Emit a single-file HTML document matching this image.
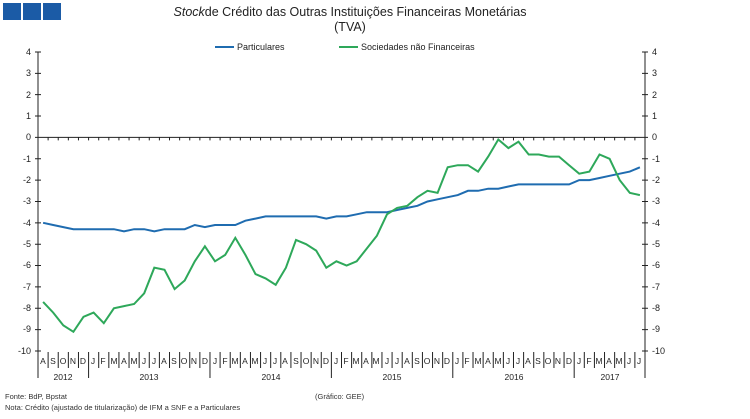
<!DOCTYPE html>
<html><head><meta charset="utf-8"><style>
html,body{margin:0;padding:0;background:#fff;}
svg{display:block;font-family:"Liberation Sans",Arial,sans-serif;}
</style></head><body>
<svg id="s" width="750" height="419" viewBox="0 0 750 419" xmlns="http://www.w3.org/2000/svg">
<rect x="3" y="3" width="18" height="17" fill="#1b5ba6"/>
<rect x="23" y="3" width="18" height="17" fill="#1b5ba6"/>
<rect x="43" y="3" width="18" height="17" fill="#1b5ba6"/>
<text x="350" y="16" font-size="12.5" text-anchor="middle" fill="#222"><tspan font-style="italic">Stock</tspan>de Crédito das Outras Instituições Financeiras Monetárias</text>
<text x="350" y="31" font-size="12.5" text-anchor="middle" fill="#222">(TVA)</text>
<line x1="215" y1="47" x2="234" y2="47" stroke="#1f6cb0" stroke-width="2"/>
<text x="237" y="50" font-size="9" fill="#222">Particulares</text>
<line x1="339" y1="47" x2="358" y2="47" stroke="#2ea85a" stroke-width="2"/>
<text x="361" y="50" font-size="9" fill="#222">Sociedades não Financeiras</text>
<g font-size="9" fill="#222" text-anchor="end">
<text x="31" y="55">4</text><text x="31" y="76">3</text><text x="31" y="98">2</text><text x="31" y="119">1</text><text x="31" y="140">0</text><text x="31" y="162">-1</text><text x="31" y="183">-2</text><text x="31" y="204">-3</text><text x="31" y="226">-4</text><text x="31" y="247">-5</text><text x="31" y="268">-6</text><text x="31" y="290">-7</text><text x="31" y="311">-8</text><text x="31" y="332">-9</text><text x="31" y="354">-10</text>
</g>
<g font-size="9" fill="#222">
<text x="652" y="55">4</text><text x="652" y="76">3</text><text x="652" y="98">2</text><text x="652" y="119">1</text><text x="652" y="140">0</text><text x="652" y="162">-1</text><text x="652" y="183">-2</text><text x="652" y="204">-3</text><text x="652" y="226">-4</text><text x="652" y="247">-5</text><text x="652" y="268">-6</text><text x="652" y="290">-7</text><text x="652" y="311">-8</text><text x="652" y="332">-9</text><text x="652" y="354">-10</text>
</g>
<g id="axes" stroke="#222" stroke-width="1" fill="none"></g>
<g font-size="8.5" fill="#222" text-anchor="middle">
<text x="43" y="364">A</text><text x="53" y="364">S</text><text x="63" y="364">O</text><text x="73" y="364">N</text><text x="83" y="364">D</text>
<text x="93" y="364">J</text><text x="103" y="364">F</text><text x="114" y="364">M</text><text x="124" y="364">A</text><text x="134" y="364">M</text><text x="144" y="364">J</text><text x="154" y="364">J</text><text x="164" y="364">A</text><text x="174" y="364">S</text><text x="184" y="364">O</text><text x="194" y="364">N</text><text x="205" y="364">D</text>
<text x="215" y="364">J</text><text x="225" y="364">F</text><text x="235" y="364">M</text><text x="245" y="364">A</text><text x="255" y="364">M</text><text x="265" y="364">J</text><text x="275" y="364">J</text><text x="285" y="364">A</text><text x="296" y="364">S</text><text x="306" y="364">O</text><text x="316" y="364">N</text><text x="326" y="364">D</text>
<text x="336" y="364">J</text><text x="346" y="364">F</text><text x="356" y="364">M</text><text x="366" y="364">A</text><text x="376" y="364">M</text><text x="387" y="364">J</text><text x="397" y="364">J</text><text x="407" y="364">A</text><text x="417" y="364">S</text><text x="427" y="364">O</text><text x="437" y="364">N</text><text x="447" y="364">D</text>
<text x="457" y="364">J</text><text x="467" y="364">F</text><text x="478" y="364">M</text><text x="488" y="364">A</text><text x="498" y="364">M</text><text x="508" y="364">J</text><text x="518" y="364">J</text><text x="528" y="364">A</text><text x="538" y="364">S</text><text x="548" y="364">O</text><text x="558" y="364">N</text><text x="569" y="364">D</text>
<text x="579" y="364">J</text><text x="589" y="364">F</text><text x="599" y="364">M</text><text x="609" y="364">A</text><text x="619" y="364">M</text><text x="629" y="364">J</text><text x="639" y="364">J</text>
<text x="63" y="380">2012</text><text x="149" y="380">2013</text><text x="271" y="380">2014</text><text x="392" y="380">2015</text><text x="514" y="380">2016</text><text x="610" y="380">2017</text>
</g>
<polyline id="pb" fill="none" stroke="#1f6cb0" stroke-width="2"/>
<polyline id="pg" fill="none" stroke="#2ea85a" stroke-width="2"/>
<text x="5" y="399" font-size="7.5" fill="#333">Fonte: BdP, Bpstat</text>
<text x="5" y="410" font-size="7.5" fill="#333">Nota: Crédito (ajustado de titularização) de IFM a SNF e a Particulares</text>
<text x="315" y="399" font-size="7.5" fill="#333">(Gráfico: GEE)</text>
</svg>
<script>
var L=38,R=645,W=(R-L)/60;function Y(v){return 137.4-v*21.36;}
var b=[-4.0,-4.1,-4.2,-4.3,-4.3,-4.3,-4.3,-4.3,-4.4,-4.3,-4.3,-4.4,-4.3,-4.3,-4.3,-4.1,-4.2,-4.1,-4.1,-4.1,-3.9,-3.8,-3.7,-3.7,-3.7,-3.7,-3.7,-3.7,-3.8,-3.7,-3.7,-3.6,-3.5,-3.5,-3.5,-3.4,-3.3,-3.2,-3.0,-2.9,-2.8,-2.7,-2.5,-2.5,-2.4,-2.4,-2.3,-2.2,-2.2,-2.2,-2.2,-2.2,-2.2,-2.0,-2.0,-1.9,-1.8,-1.7,-1.6,-1.4];
var g=[-7.7,-8.2,-8.8,-9.1,-8.4,-8.2,-8.7,-8.0,-7.9,-7.8,-7.3,-6.1,-6.2,-7.1,-6.7,-5.8,-5.1,-5.8,-5.5,-4.7,-5.5,-6.4,-6.6,-6.9,-6.1,-4.8,-5.0,-5.3,-6.1,-5.8,-6.0,-5.8,-5.2,-4.6,-3.6,-3.3,-3.2,-2.8,-2.5,-2.6,-1.4,-1.3,-1.3,-1.6,-0.9,-0.1,-0.5,-0.2,-0.8,-0.8,-0.9,-0.9,-1.3,-1.7,-1.6,-0.8,-1.0,-2.0,-2.6,-2.7];
function pts(a){return a.map(function(v,i){return (L+(i+0.5)*W).toFixed(1)+","+Y(v).toFixed(1)}).join(" ");}
document.getElementById("pb").setAttribute("points",pts(b));
document.getElementById("pg").setAttribute("points",pts(g));
var d="M"+L+" 52V352M"+R+" 52V352M"+L+" 137.4H"+R;
for(var k=0;k<=14;k++){var y=Y(4-k);d+="M"+(L-3)+" "+y+"H"+(L+3)+"M"+(R-3)+" "+y+"H"+(R+3);}
for(var i=1;i<60;i++){var x=L+i*W;d+="M"+x+" 137.4v3";
 var yb=(i==5||i==17||i==29||i==41||i==53)?378:368;d+="M"+x+" 352V"+yb;}
d+="M"+L+" 352V378M"+R+" 352V378";
document.getElementById("axes").setAttribute("d","");
var p=document.createElementNS("http://www.w3.org/2000/svg","path");p.setAttribute("d",d);
document.getElementById("axes").appendChild(p);
</script>
</body></html>
